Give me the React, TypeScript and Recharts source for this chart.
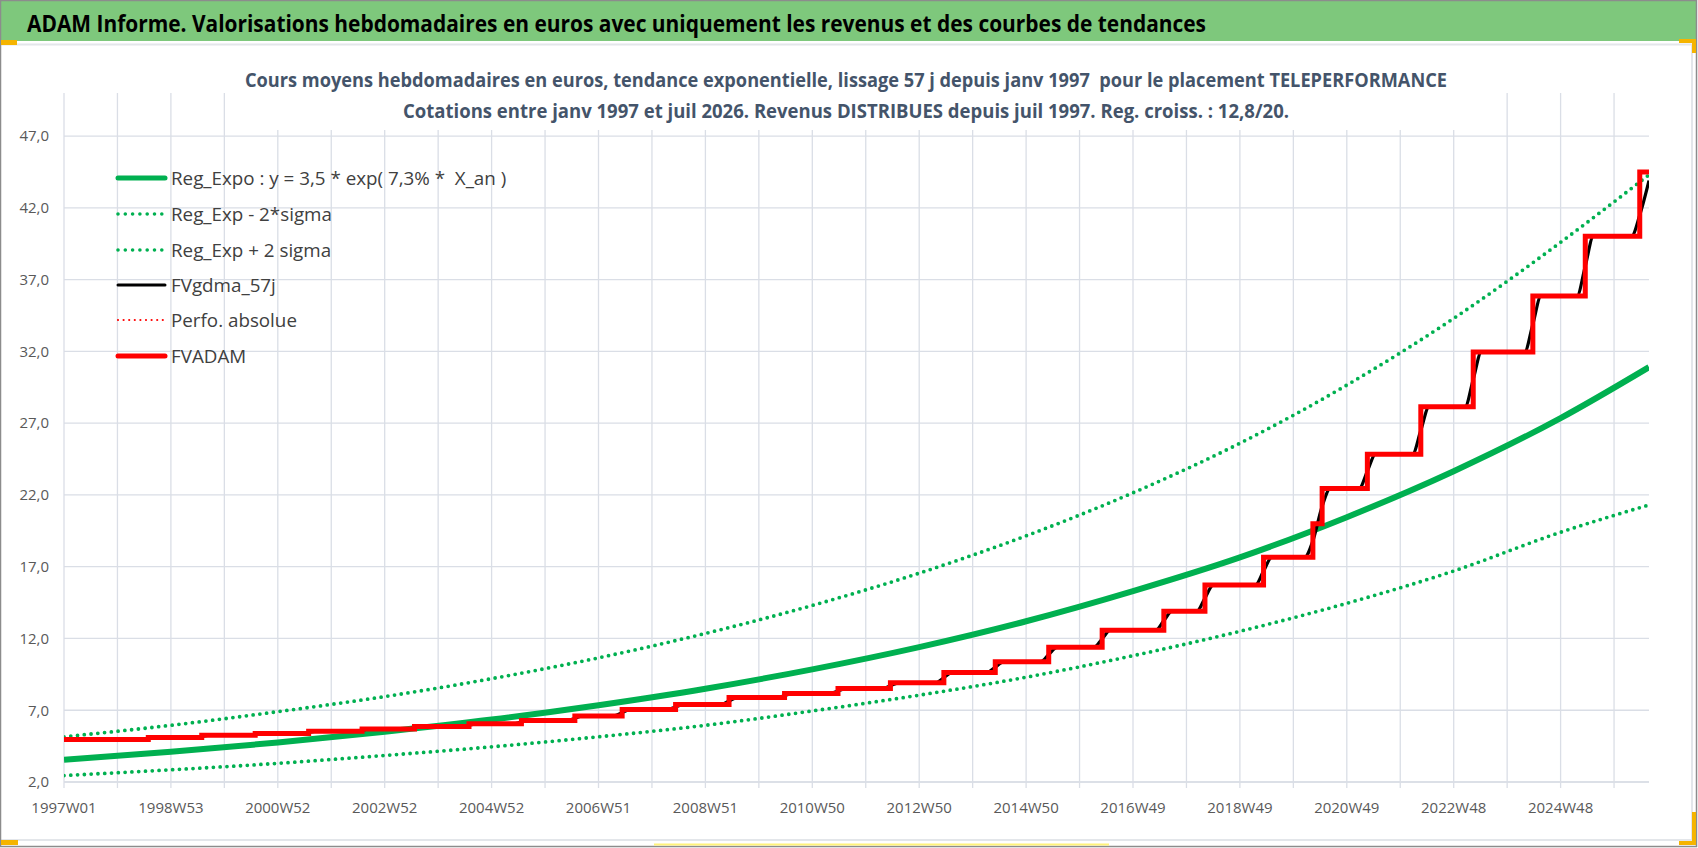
import { LineChart, Line, XAxis, YAxis, CartesianGrid } from 'recharts';

// axe des semaines : 0 = 1997W01, graduation tous les 52 pas, libellé tous les 104
const tickLabels = ['1997W01', '1998W53', '2000W52', '2002W52', '2004W52', '2006W51', '2008W51', '2010W50', '2012W50', '2014W50', '2016W49', '2018W49', '2020W49', '2022W48', '2024W48'];
const lastWeek = 1542;
const yMin = 2;
const yMax = 50;
const yTicks = [2, 7, 12, 17, 22, 27, 32, 37, 42, 47];

// courbes de tendance, lues tous les 104 pas + dernière semaine
const trendWeeks = [0, 104, 208, 312, 416, 520, 624, 728, 832, 936, 1040, 1144, 1248, 1352, 1456, 1542];
const regExpo = [3.55, 4.1, 4.75, 5.5, 6.35, 7.35, 8.5, 9.85, 11.4, 13.2, 15.3, 17.65, 20.45, 23.65, 27.35, 30.9];
const regMinus = [2.45, 2.85, 3.3, 3.85, 4.45, 5.15, 5.95, 6.95, 8.05, 9.3, 10.8, 12.5, 14.45, 16.7, 19.4, 21.3];
const regPlus = [5.15, 5.95, 6.9, 7.95, 9.2, 10.65, 12.35, 14.3, 16.55, 19.15, 22.15, 25.6, 29.65, 34.3, 39.6, 44.3];

// FVADAM : paliers (semaine du saut, niveau après le saut)
const startLevel = 4.96;
const stepWeeks = [82, 134, 186, 238, 290, 341, 394, 445, 497, 543, 595, 647, 701, 753, 804, 856, 906, 958, 1010, 1070, 1110, 1167, 1215, 1224, 1268, 1320, 1371, 1429, 1480, 1533];
const stepLevels = [5.1, 5.26, 5.38, 5.54, 5.7, 5.86, 6.05, 6.28, 6.6, 7.05, 7.4, 7.88, 8.16, 8.51, 8.91, 9.63, 10.37, 11.38, 12.58, 13.9, 15.72, 17.65, 20.0, 22.45, 24.84, 28.14, 31.96, 35.86, 40.02, 44.5];

// FVgdma_57j : valeur lissée au moment de chaque saut, et en fin de série
const gdmaMid = [5.03, 5.18, 5.32, 5.46, 5.62, 5.78, 5.96, 6.17, 6.44, 6.83, 7.23, 7.64, 8.02, 8.34, 8.71, 9.27, 10.0, 10.88, 11.98, 13.24, 14.81, 16.69, 18.8, 21.2, 23.65, 26.5, 30.05, 33.9, 37.94, 41.5];
const gdmaEnd = 43.9;

const GRID = '#dadee6';
const SMOOTH = 8; // demi-largeur du lissage, en semaines

const gridWeeks = tickLabels.flatMap((_, i) => [i * 104, i * 104 + 52]).filter((w) => w <= lastWeek);

const trend = (vals: number[]) => trendWeeks.map((w, i) => ({ w, v: vals[i] }));

const adamData = [
  { w: 0, v: startLevel },
  ...stepWeeks.map((w, i) => ({ w, v: stepLevels[i] })),
  { w: lastWeek, v: stepLevels[stepLevels.length - 1] },
];

function buildGdma() {
  const pts = [{ w: 0, v: startLevel }];
  let skipPre = false;
  stepWeeks.forEach((w, i) => {
    const prev = i === 0 ? startLevel : stepLevels[i - 1];
    if (!skipPre) pts.push({ w: w - SMOOTH, v: prev });
    pts.push({ w, v: gdmaMid[i] });
    const limit = i + 1 < stepWeeks.length ? stepWeeks[i + 1] - SMOOTH : lastWeek - SMOOTH;
    if (w + SMOOTH < limit) {
      pts.push({ w: w + SMOOTH, v: stepLevels[i] });
      skipPre = false;
    } else {
      skipPre = true;
    }
  });
  pts.push({ w: lastWeek, v: gdmaEnd });
  return pts;
}
const gdmaData = buildGdma();

const legendItems = [
  { label: 'Reg_Expo : y = 3,5 * exp( 7,3% *  X_an )', color: '#00b050', width: 5, dots: 0 },
  { label: 'Reg_Exp - 2*sigma', color: '#00b050', width: 3.6, dots: 7.3 },
  { label: 'Reg_Exp + 2 sigma', color: '#00b050', width: 3.6, dots: 7.3 },
  { label: 'FVgdma_57j', color: '#000000', width: 3, dots: 0 },
  { label: 'Perfo. absolue', color: '#ff0000', width: 2.2, dots: 5.6 },
  { label: 'FVADAM', color: '#ff0000', width: 5, dots: 0 },
];

// quadrillage uniquement aux graduations (pas de trait sur les bords haut et droit)
const verticalGen = ({ offset }: any) => gridWeeks.map((w) => offset.left + (w / lastWeek) * offset.width);
const horizontalGen = ({ offset }: any) => yTicks.map((v) => offset.top + ((yMax - v) / (yMax - yMin)) * offset.height);

export default function App() {
  return (
    <div style={{ position: 'absolute', left: 0, top: 0, width: 1698, height: 848, background: '#fff', overflow: 'hidden' }}>
      <div style={{ position: 'absolute', left: 0, top: 0 }}>
        <LineChart width={1698} height={848} margin={{ top: 93, right: 49, bottom: 0, left: 0 }}>
          <CartesianGrid stroke={GRID} strokeWidth={1.3} verticalCoordinatesGenerator={verticalGen} horizontalCoordinatesGenerator={horizontalGen} />
          <XAxis
            type="number"
            dataKey="w"
            domain={[0, lastWeek]}
            ticks={gridWeeks}
            interval={0}
            allowDataOverflow
            tickFormatter={(w: number) => (w % 104 === 0 ? tickLabels[w / 104] : '')}
            tick={{ fill: '#595959', fontSize: 15, fontFamily: 'Open Sans' }}
            tickSize={6}
            tickMargin={14}
            axisLine={{ stroke: GRID, strokeWidth: 1.3 }}
            tickLine={{ stroke: GRID, strokeWidth: 1.3 }}
            height={66}
          />
          <YAxis
            type="number"
            domain={[yMin, yMax]}
            ticks={yTicks}
            interval={0}
            allowDataOverflow
            tickFormatter={(v: number) => v.toFixed(1).replace('.', ',')}
            tick={{ fill: '#595959', fontSize: 15, fontFamily: 'Open Sans' }}
            axisLine={false}
            tickLine={false}
            tickSize={0}
            tickMargin={15}
            width={64}
          />
          <Line data={trend(regExpo)} dataKey="v" type="monotone" stroke="#00b050" strokeWidth={6} dot={false} isAnimationActive={false} />
          <Line data={trend(regMinus)} dataKey="v" type="monotone" stroke="#00b050" strokeWidth={3.8} strokeDasharray="0 6.8" strokeLinecap="round" dot={false} isAnimationActive={false} />
          <Line data={trend(regPlus)} dataKey="v" type="monotone" stroke="#00b050" strokeWidth={3.8} strokeDasharray="0 6.8" strokeLinecap="round" dot={false} isAnimationActive={false} />
          <Line data={gdmaData} dataKey="v" type="monotone" stroke="#000000" strokeWidth={3.2} dot={false} isAnimationActive={false} />
          <Line data={adamData} dataKey="v" type="stepAfter" stroke="#ff0000" strokeWidth={5} strokeLinejoin="miter" dot={false} isAnimationActive={false} />
        </LineChart>
      </div>
      <svg width={1698} height={848} style={{ position: 'absolute', left: 0, top: 0, pointerEvents: 'none' }}>
        {/* bandeau */}
        <rect x={0} y={0} width={1696} height={41} fill="#7ec87c" />
        <text x={27} y={32} fontFamily="Open Sans" fontWeight={700} fontSize={24} fill="#000" textLength={1179} lengthAdjust="spacingAndGlyphs">
          ADAM Informe. Valorisations hebdomadaires en euros avec uniquement les revenus et des courbes de tendances
        </text>
        {/* cadre */}
        <line x1={0} y1={44.5} x2={1692} y2={44.5} stroke="#e3e6ea" strokeWidth={2} />
        <line x1={1692} y1={44} x2={1692} y2={840} stroke="#e3e6ea" strokeWidth={2} />
        <line x1={0} y1={840} x2={1692} y2={840} stroke="#e3e6ea" strokeWidth={2} />
        <rect x={0.5} y={0.5} width={1696} height={846} fill="none" stroke="#8c8c8c" strokeWidth={1.5} />
        <rect x={1} y={40} width={16} height={5} fill="#f5b400" />
        <path d="M1679 41 H1694 V53" fill="none" stroke="#f5b400" strokeWidth={4} />
        <rect x={1} y={840} width={17} height={5} fill="#f5b400" />
        <path d="M1679 843 H1694 V812" fill="none" stroke="#f5b400" strokeWidth={4} />
        <line x1={654} y1={844.5} x2={1109} y2={844.5} stroke="#fff27a" strokeWidth={2} />
        {/* titre */}
        <rect x={240} y={88} width={1225} height={42} fill="#fff" />
        <text x={245} y={87} fontFamily="Open Sans" fontWeight={700} fontSize={20} fill="#44546a" textLength={1202} lengthAdjust="spacingAndGlyphs" style={{ whiteSpace: 'pre' }}>
          Cours moyens hebdomadaires en euros, tendance exponentielle, lissage 57 j depuis janv 1997  pour le placement TELEPERFORMANCE
        </text>
        <text x={403} y={118} fontFamily="Open Sans" fontWeight={700} fontSize={20} fill="#44546a" textLength={886} lengthAdjust="spacingAndGlyphs">
          Cotations entre janv 1997 et juil 2026. Revenus DISTRIBUES depuis juil 1997. Reg. croiss. : 12,8/20.
        </text>
        {/* légende */}
        {legendItems.map((it, i) => {
          const cy = [178, 214, 250, 285, 320, 356][i];
          return (
            <g key={it.label}>
              <line
                x1={118}
                y1={cy}
                x2={it.dots ? 164 : 165}
                y2={cy}
                stroke={it.color}
                strokeWidth={it.width}
                strokeLinecap="round"
                strokeDasharray={it.dots ? `0 ${it.dots}` : undefined}
              />
              <text x={171} y={cy + 7} fontFamily="Open Sans" fontSize={18.8} fill="#404040" style={{ whiteSpace: 'pre' }}>
                {it.label}
              </text>
            </g>
          );
        })}
      </svg>
    </div>
  );
}
